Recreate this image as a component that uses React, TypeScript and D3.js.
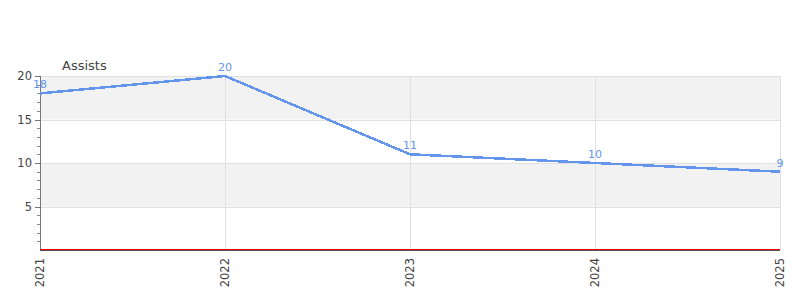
import React from "react";
import * as d3 from "d3";

const years = ["2021", "2022", "2023", "2024", "2025"];
const assists = [18, 20, 11, 10, 9];
const yTicks = [5, 10, 15, 20];
const bands = [[15, 20], [5, 10]];

export default function App() {
  const W = 800, H = 300;
  const left = 40, right = 780, top = 76, bottom = 250;
  const x = d3.scalePoint<string>().domain(years).range([left, right]);
  const y = d3.scaleLinear().domain([0, 20]).range([bottom, top]);
  const line = d3.line<number>().x((_, i) => x(years[i])!).y((d) => y(d));
  const minor = d3.range(1, 20).filter((v) => v % 5 !== 0);
  return (
    <svg width={W} height={H} style={{ position: "absolute", left: 0, top: 0, fontFamily: "DejaVu Sans, sans-serif" }}>
      <rect x={0} y={0} width={W} height={H} fill="#fff" />
      {bands.map(([a, b], i) => (
        <rect key={i} x={left} y={y(b)} width={right - left} height={y(a) - y(b)} fill="#f2f2f2" />
      ))}
      {yTicks.map((t) => (
        <line key={t} x1={left} x2={right} y1={Math.round(y(t)) + 0.5} y2={Math.round(y(t)) + 0.5} stroke="#e0e0e0" />
      ))}
      {years.map((yr) => (
        <line key={yr} x1={Math.round(x(yr)!) + 0.5} x2={Math.round(x(yr)!) + 0.5} y1={top} y2={bottom} stroke="#e0e0e0" />
      ))}
      <line x1={left + 0.5} x2={left + 0.5} y1={top} y2={bottom} stroke="#777" />
      {yTicks.map((t) => (
        <g key={t}>
          <line x1={left - 5} x2={left} y1={Math.round(y(t)) + 0.5} y2={Math.round(y(t)) + 0.5} stroke="#777" />
          <text x={left - 8} y={y(t)} dy="0.35em" textAnchor="end" fontSize={11.5} fill="#444">{t}</text>
        </g>
      ))}
      {minor.map((t) => (
        <line key={t} x1={left - 3} x2={left} y1={Math.round(y(t)) + 0.5} y2={Math.round(y(t)) + 0.5} stroke="#888" />
      ))}
      <line x1={left} x2={right} y1={bottom + 0.5} y2={bottom + 0.5} stroke="#555" />
      <line x1={left} x2={right} y1={bottom - 0.5} y2={bottom - 0.5} stroke="#ee0000" strokeWidth={1} />
      {years.map((yr) => (
        <text key={yr} transform={`translate(${x(yr)! + 4},258) rotate(-90)`} textAnchor="end" fontSize={11.5} fill="#444">{yr}</text>
      ))}
      <text x={62} y={70} fontSize={13} fill="#444">Assists</text>
      <path d={line(assists)!} fill="none" stroke="#6495ed" strokeWidth={2.5} shapeRendering="crispEdges" />
      {assists.map((v, i) => (
        <text key={i} x={x(years[i])} y={y(v) - 5} textAnchor="middle" fontSize={11} fill="#6495ed">{v}</text>
      ))}
    </svg>
  );
}
